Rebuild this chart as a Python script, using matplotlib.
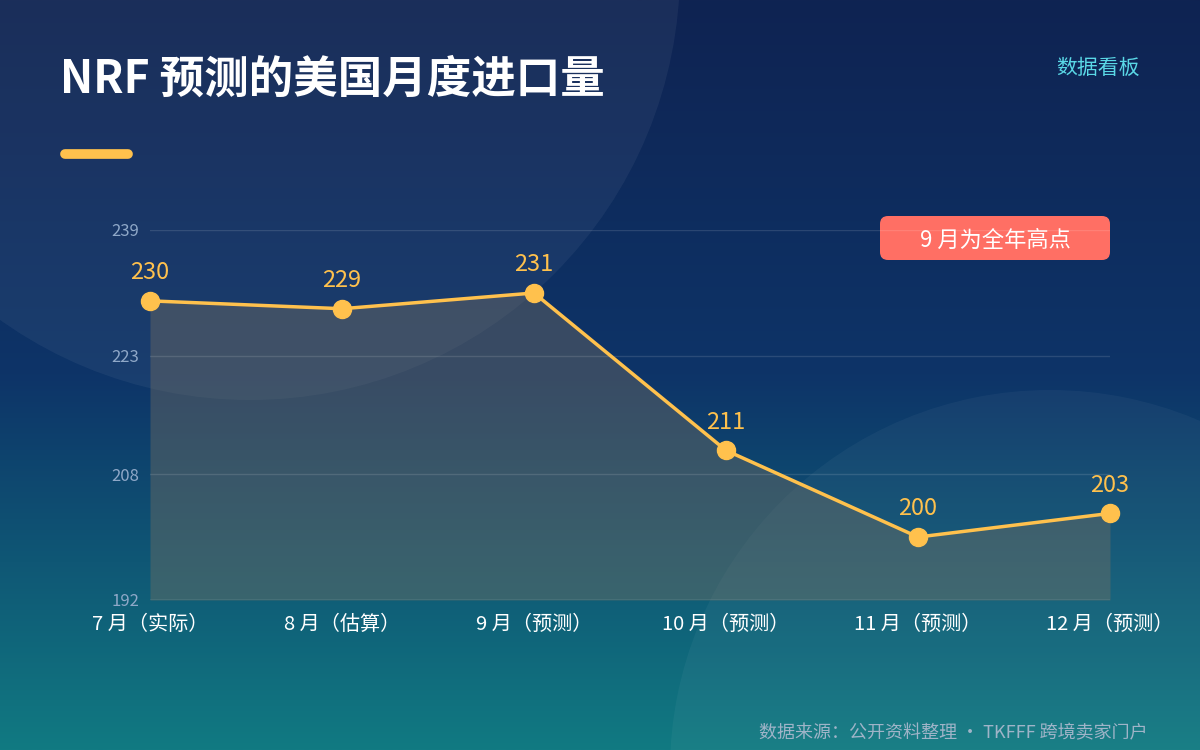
import matplotlib
matplotlib.use("Agg")
import matplotlib.pyplot as plt
import numpy as np
from matplotlib.patches import Circle, FancyBboxPatch
from matplotlib.colors import LinearSegmentedColormap

plt.rcParams["font.family"] = ["Noto Sans CJK SC", "DejaVu Sans"]

categories = ["7 月（实际）", "8 月（估算）", "9 月（预测）", "10 月（预测）", "11 月（预测）", "12 月（预测）"]
values = [230, 229, 231, 211, 200, 203]
yticks = [192, 208, 223, 239]

fig = plt.figure(figsize=(12, 7.5), dpi=100)

# background gradient
bg = fig.add_axes([0, 0, 1, 1], zorder=-10)
cmap = LinearSegmentedColormap.from_list("bg", ["#0f2352", "#0d3468", "#117a82"])
grad = np.linspace(0, 1, 256).reshape(-1, 1)
bg.imshow(grad, aspect="auto", cmap=cmap, extent=[0, 1200, 750, 0])
bg.add_patch(Circle((250, -30), 430, color="white", alpha=0.05, lw=0))
bg.add_patch(Circle((1050, 770), 380, color="white", alpha=0.04, lw=0))
bg.set_xlim(0, 1200)
bg.set_ylim(750, 0)
bg.axis("off")

fig.text(60 / 1200, 1 - 80 / 750, "NRF 预测的美国月度进口量", color="white",
         fontsize=32, fontweight="bold", va="center")
fig.text(1140 / 1200, 1 - 68 / 750, "数据看板", color="#5ad8e6", fontsize=15,
         ha="right", va="center")
bg.plot([65, 128], [154, 154], color="#ffc14d", lw=7, solid_capstyle="round")
fig.text(1148 / 1200, 1 - 733 / 750, "数据来源：公开资料整理 · TKFFF 跨境卖家门户",
         color="#9fb4c8", fontsize=13, ha="right", va="center")

ax = fig.add_axes([150 / 1200, 150 / 750, 960 / 1200, 370 / 750])
ax.patch.set_alpha(0)
x = np.arange(len(values))
ax.fill_between(x, values, 192, color="#7a7060", alpha=0.4, lw=0)
ax.plot(x, values, color="#ffc14d", lw=2.5, marker="o", markersize=13,
        markerfacecolor="#ffc14d", markeredgecolor="#ffc14d", zorder=3, clip_on=False)
for xi, v in zip(x, values):
    ax.annotate(str(v), (xi, v), xytext=(0, 12), textcoords="offset points",
                ha="center", va="bottom", color="#ffc14d", fontsize=17, fontweight="medium")
ax.set_xlim(0, len(values) - 1)
ax.set_ylim(192, 239)
ax.set_yticks(yticks)
ax.set_xticks(x)
ax.set_xticklabels(categories)
ax.tick_params(axis="y", colors="#8fa8c8", labelsize=12, length=0, pad=8)
ax.tick_params(axis="x", colors="white", labelsize=14.5, length=0, pad=10)
ax.grid(axis="y", color="white", alpha=0.12, lw=1)
for s in ax.spines.values():
    s.set_visible(False)
ax.axhline(192, color="white", alpha=0.25, lw=1)

bg.add_patch(FancyBboxPatch((880, 216), 230, 44, boxstyle="round,pad=0,rounding_size=8",
                            color="#ff6f64", lw=0))
bg.text(995, 240, "9 月为全年高点", color="white", fontsize=16, ha="center", va="center")

fig.savefig("out.png", dpi=100)
